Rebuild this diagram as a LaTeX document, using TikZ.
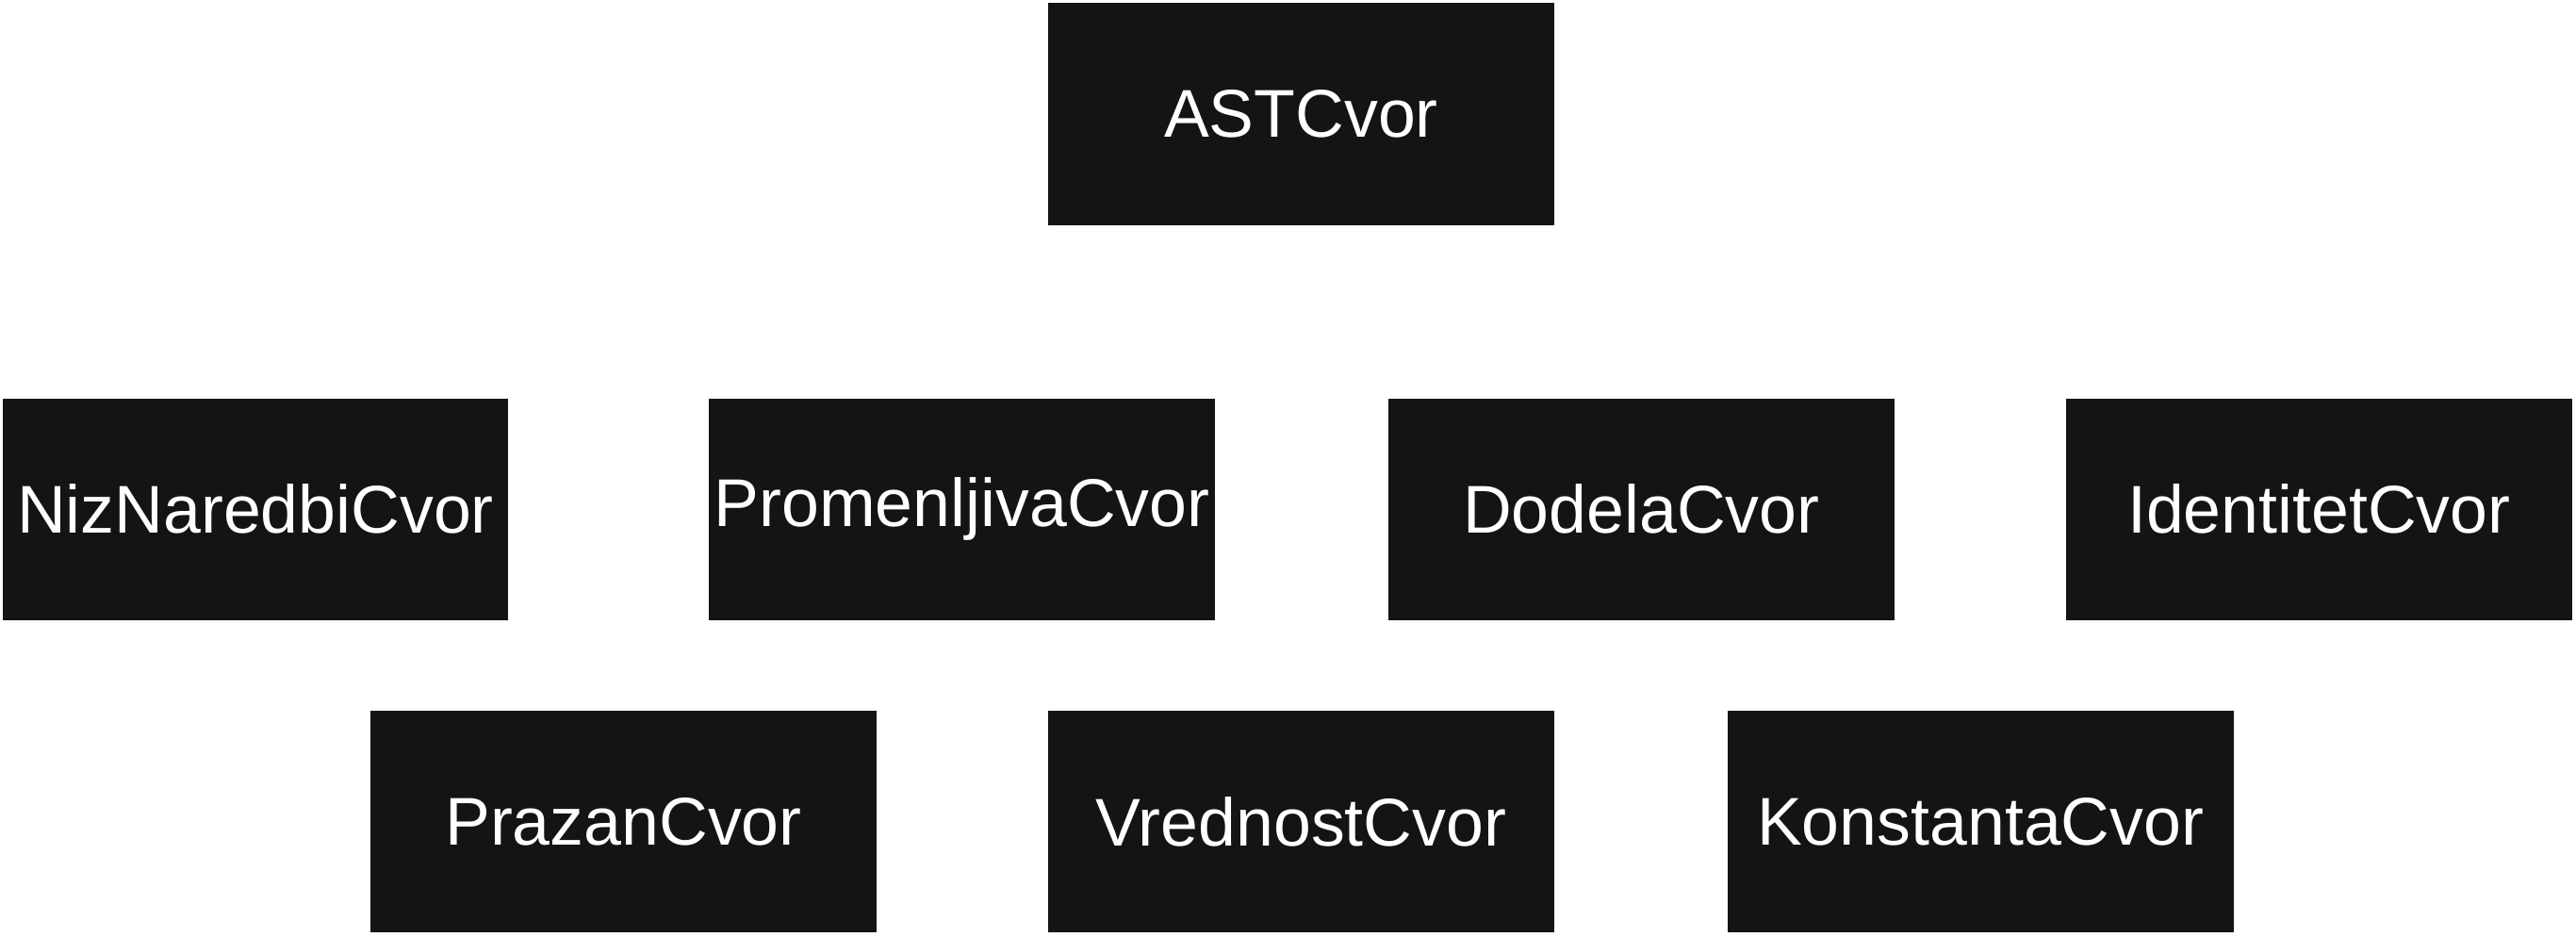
\documentclass[tikz,border=0pt]{standalone}
\usepackage{fontspec}
\setmainfont{Liberation Sans}
\definecolor{boxgray}{HTML}{141414}
\tikzset{klasa/.style={fill=boxgray, text=white, minimum width=3.08cm, minimum height=1.35cm, inner sep=0pt, font=\fontsize{11.7}{14}\selectfont}}

\begin{document}
\begin{tikzpicture}
      \useasboundingbox (0, 0) rectangle (15.68, 5.70);
      \node[klasa] (ast) at (7.92, 5.005) {ASTCvor};

      \node[klasa] (niz) at (1.555, 2.60) {NizNaredbiCvor};
      \node[klasa] (promenljiva) at (5.855, 2.60) {PromenljivaCvor};
      \node[klasa] (dodela) at (9.99, 2.60) {DodelaCvor};
      \node[klasa] (identitet) at (14.115, 2.60) {IdentitetCvor};

      \node[klasa] (prazan) at (3.795, 0.70) {PrazanCvor};
      \node[klasa] (vrednost) at (7.92, 0.70) {VrednostCvor};
      \node[klasa] (konstanta) at (12.055, 0.70) {KonstantaCvor};
\end{tikzpicture}
\end{document}
